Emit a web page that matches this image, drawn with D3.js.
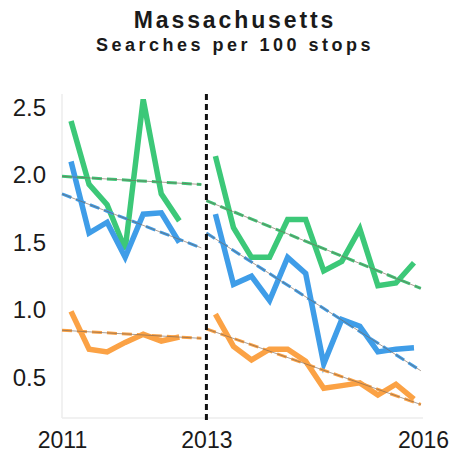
<!DOCTYPE html>
<html>
<head>
<meta charset="utf-8">
<script src="https://cdn.jsdelivr.net/npm/d3@7"></script>
<style>
  body { margin: 0; background: #fff; }
  text { font-family: "Liberation Sans", Arial, sans-serif; }
</style>
</head>
<body>
<div id="chart"></div>
<script>
// quarters (mid-quarter, fractional years)
var quartersBefore = [2011.125, 2011.375, 2011.625, 2011.875, 2012.125, 2012.375, 2012.625];
var quartersAfter = [2013.125, 2013.375, 2013.625, 2013.875, 2014.125, 2014.375, 2014.625, 2014.875,
                     2015.125, 2015.375, 2015.625, 2015.875];

var greenBefore = [2.40, 1.93, 1.78, 1.45, 2.56, 1.86, 1.66];
var blueBefore = [2.10, 1.57, 1.65, 1.39, 1.71, 1.72, 1.50];
var orangeBefore = [0.99, 0.71, 0.69, 0.76, 0.82, 0.77, 0.80];

var greenAfter = [2.14, 1.61, 1.39, 1.39, 1.67, 1.67, 1.29, 1.36, 1.60, 1.18, 1.20, 1.35];
var blueAfter = [1.71, 1.19, 1.25, 1.07, 1.39, 1.27, 0.60, 0.93, 0.88, 0.69, 0.71, 0.72];
var orangeAfter = [0.97, 0.73, 0.63, 0.71, 0.71, 0.62, 0.42, 0.44, 0.46, 0.37, 0.45, 0.34];

// fitted trend lines: [start, end]
var trendXBefore = [2011.0, 2012.93];
var trendXAfter = [2013.0, 2015.97];
var greenTrendBefore = [1.99, 1.93];
var blueTrendBefore = [1.86, 1.46];
var orangeTrendBefore = [0.85, 0.79];
var greenTrendAfter = [1.81, 1.16];
var blueTrendAfter = [1.57, 0.55];
var orangeTrendAfter = [0.86, 0.30];

var yTicks = [0.5, 1.0, 1.5, 2.0, 2.5];
var xTicks = [2011, 2013, 2016];
var cutYear = 2013;

var width = 453, height = 456;
var green = "#3cc878", blue = "#3f9de8", orange = "#fba245";

var svg = d3.select("#chart").append("svg")
  .attr("width", width)
  .attr("height", height);

var xScale = d3.scaleLinear().domain([2011, 2016]).range([62, 423]);
var yScale = d3.scaleLinear().domain([0.2, 2.6]).range([418, 94]);

/* title */
svg.append("text")
  .attr("x", 235).attr("y", 28)
  .attr("text-anchor", "middle")
  .style("font-size", "23px").style("font-weight", "bold")
  .style("letter-spacing", "2.9px")
  .attr("fill", "#1a1a1a")
  .text("Massachusetts");
svg.append("text")
  .attr("x", 235).attr("y", 51)
  .attr("text-anchor", "middle")
  .style("font-size", "18px").style("font-weight", "bold")
  .style("letter-spacing", "3.5px")
  .attr("fill", "#1a1a1a")
  .text("Searches per 100 stops");

/* frame lines */
svg.append("line")
  .attr("x1", xScale(2011)).attr("x2", xScale(2011))
  .attr("y1", yScale(2.6)).attr("y2", yScale(0.2))
  .attr("stroke", "#ececec").attr("stroke-width", 1.5);
svg.append("line")
  .attr("x1", xScale(2011)).attr("x2", xScale(2016))
  .attr("y1", yScale(0.2)).attr("y2", yScale(0.2))
  .attr("stroke", "#ececec").attr("stroke-width", 1.5);

/* axes (labels only) */
var yAxis = d3.axisLeft(yScale).tickValues(yTicks).tickSize(0).tickPadding(16)
  .tickFormat(d3.format(".1f"));
var gy = svg.append("g").attr("transform", `translate(${xScale(2011)},0)`).call(yAxis);
gy.select(".domain").remove();
gy.selectAll("text")
  .style("font-size", "24px").attr("fill", "#1a1a1a")
  .style("font-family", "'Liberation Sans', Arial, sans-serif");

var xAxis = d3.axisBottom(xScale).tickValues(xTicks).tickSize(0).tickPadding(14)
  .tickFormat(d3.format("d"));
var gx = svg.append("g").attr("transform", `translate(0,${yScale(0.2)})`).call(xAxis);
gx.select(".domain").remove();
gx.selectAll("text")
  .style("font-size", "23px").attr("fill", "#1a1a1a")
  .style("font-family", "'Liberation Sans', Arial, sans-serif");

/* data lines */
var line = d3.line()
  .x(d => xScale(d[0]))
  .y(d => yScale(d[1]));

var series = [
  {x: quartersBefore, y: greenBefore, c: green},
  {x: quartersBefore, y: blueBefore, c: blue},
  {x: quartersBefore, y: orangeBefore, c: orange},
  {x: quartersAfter, y: greenAfter, c: green},
  {x: quartersAfter, y: blueAfter, c: blue},
  {x: quartersAfter, y: orangeAfter, c: orange}
];

var trends = [
  {x: trendXBefore, y: greenTrendBefore, c: green},
  {x: trendXBefore, y: blueTrendBefore, c: blue},
  {x: trendXBefore, y: orangeTrendBefore, c: orange},
  {x: trendXAfter, y: greenTrendAfter, c: green},
  {x: trendXAfter, y: blueTrendAfter, c: blue},
  {x: trendXAfter, y: orangeTrendAfter, c: orange}
];

svg.append("g").selectAll("path")
  .data(series).enter()
  .append("path")
  .attr("d", s => line(d3.zip(s.x, s.y)))
  .attr("fill", "none")
  .attr("stroke", s => s.c)
  .attr("stroke-width", 5.5)
  .attr("stroke-linejoin", "miter");

/* trend lines: coloured dashes with a thin dark line through them */
var tg = svg.append("g");
tg.selectAll(".trend")
  .data(trends).enter()
  .append("path")
  .attr("class", "trend")
  .attr("d", s => line(d3.zip(s.x, s.y)))
  .attr("fill", "none")
  .attr("stroke", s => s.c)
  .attr("stroke-width", 3)
  .attr("stroke-dasharray", "10,5");
tg.selectAll(".trend-thin")
  .data(trends).enter()
  .append("path")
  .attr("class", "trend-thin")
  .attr("d", s => line(d3.zip(s.x, s.y)))
  .attr("fill", "none")
  .attr("stroke", "#7a6656")
  .attr("stroke-opacity", 0.8)
  .attr("stroke-width", 0.8);

/* cutoff line */
svg.append("line")
  .attr("x1", xScale(cutYear)).attr("x2", xScale(cutYear))
  .attr("y1", yScale(2.6)).attr("y2", yScale(0.2) + 2)
  .attr("stroke", "#111")
  .attr("stroke-width", 3)
  .attr("stroke-dasharray", "6,4");
</script>
</body>
</html>
